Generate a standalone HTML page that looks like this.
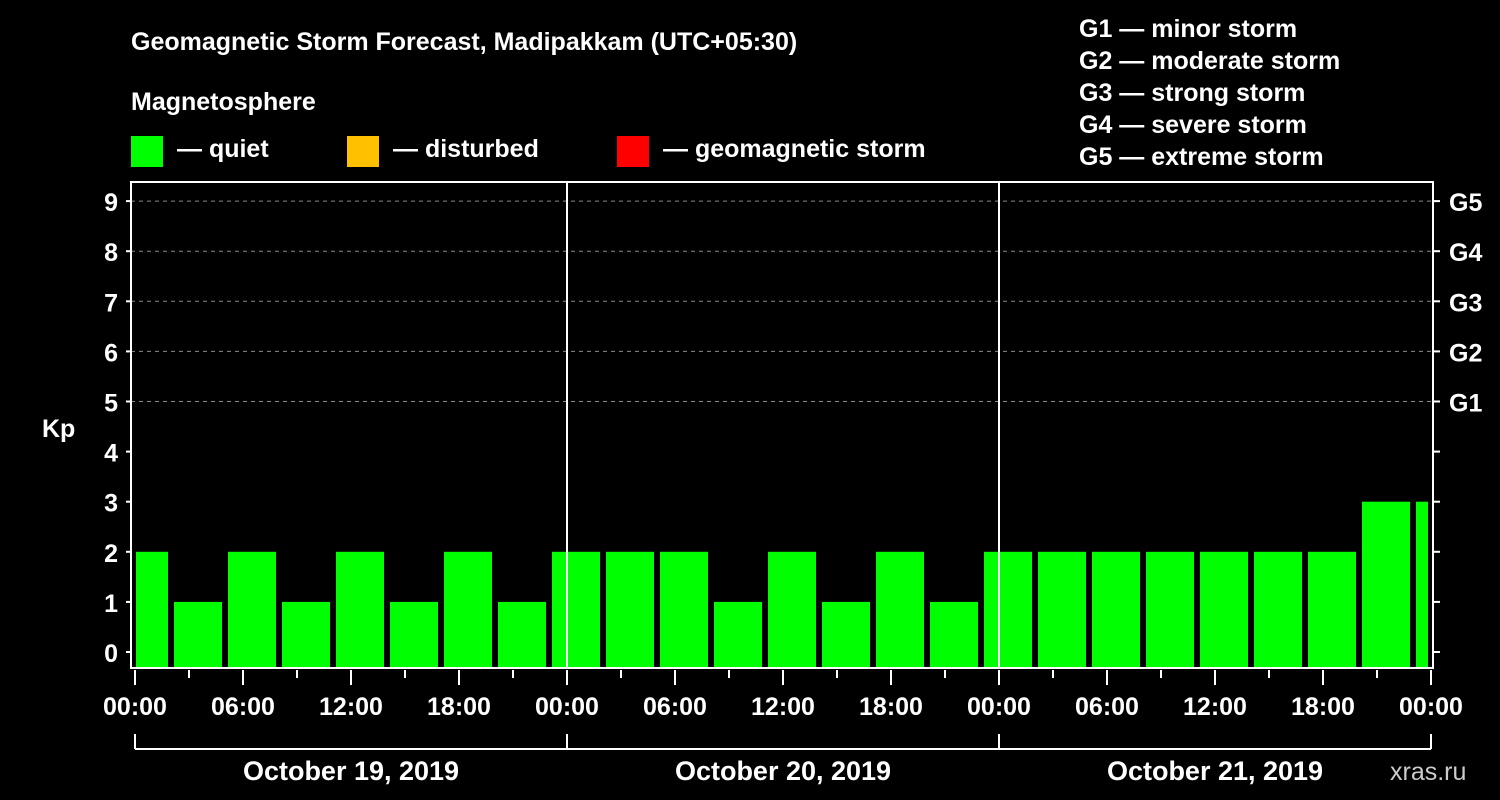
<!DOCTYPE html>
<html><head><meta charset="utf-8"><style>
html,body{margin:0;padding:0;background:#000;}
svg{display:block;font-family:"Liberation Sans",sans-serif;font-weight:bold;}
</style></head><body>
<svg id="chart" width="1500" height="800" viewBox="0 0 1500 800">
<rect width="1500" height="800" fill="#000"/>
<text x="131" y="50" fill="#fff" font-size="25">Geomagnetic Storm Forecast, Madipakkam (UTC+05:30)</text>
<text x="131" y="110" fill="#fff" font-size="25">Magnetosphere</text>
<rect x="131" y="136" width="32" height="31" fill="#00ff00"/>
<text x="177" y="157" fill="#fff" font-size="25">— quiet</text>
<rect x="347" y="136" width="32" height="31" fill="#ffc000"/>
<text x="393" y="157" fill="#fff" font-size="25">— disturbed</text>
<rect x="617" y="136" width="32" height="31" fill="#ff0000"/>
<text x="663" y="157" fill="#fff" font-size="25">— geomagnetic storm</text>
<g fill="#fff" font-size="25">
<text x="1079" y="37">G1 — minor storm</text>
<text x="1079" y="69">G2 — moderate storm</text>
<text x="1079" y="101">G3 — strong storm</text>
<text x="1079" y="133">G4 — severe storm</text>
<text x="1079" y="165">G5 — extreme storm</text>
</g>
<text x="42" y="437" fill="#fff" font-size="25">Kp</text>
<text x="1390" y="780" fill="#ccc" font-size="25" font-weight="normal">xras.ru</text>
<g id="grid"></g><g id="bars"></g><g id="axes"></g>
</svg>
<script>
const kpValues=[2,1,2,1,2,1,2,1,2,2,2,1,2,1,2,1,2,2,2,2,2,2,2,3,3];
const barStartHour=-0.8333;
const yTicks=[0,1,2,3,4,5,6,7,8,9];
const gLabels=["G1","G2","G3","G4","G5"];
const gLevels=[5,6,7,8,9];
const xTickLabels=["00:00","06:00","12:00","18:00","00:00","06:00","12:00","18:00","00:00","06:00","12:00","18:00","00:00"];
const dayLabels=["October 19, 2019","October 20, 2019","October 21, 2019"];
const NS="http://www.w3.org/2000/svg";
const L=131,R=1433,T=182,B=668,X0=135,PXH=18;
const xs=h=>X0+h*PXH;
const ys=v=>652-v*50.1;
function mk(p,tag,a){const e=document.createElementNS(NS,tag);for(const k in a)e.setAttribute(k,a[k]);p.appendChild(e);return e;}
const grid=document.getElementById('grid'),bars=document.getElementById('bars'),axes=document.getElementById('axes');
gLevels.forEach((v,i)=>{
 const g=mk(grid,'line',{x1:L,x2:R,y1:ys(v),y2:ys(v),stroke:'#888','stroke-dasharray':'4,4','stroke-width':1});
 
 
 const t=mk(axes,'text',{x:1449,y:ys(v)+10,fill:'#fff','font-size':25});
 t.textContent=gLabels[i];
 
 
});
kpValues.forEach((v,i)=>{
 let x1=xs(barStartHour+3*i),x2=x1+48;
 x1=Math.max(x1,136);x2=Math.min(x2,1428);
 const r=mk(bars,'rect',{x:x1,y:ys(v),width:x2-x1,height:B-ys(v),fill:v>=5?'#ff0000':(v>=4?'#ffc000':'#00ff00')});
 
 
});
[1,2].forEach(d=>{
 const l=mk(axes,'line',{x1:xs(24*d),x2:xs(24*d),y1:T,y2:B,stroke:'#fff','stroke-width':2});
 
 
});
const frame=mk(axes,'rect',{x:L,y:T,width:R-L,height:B-T,fill:'none',stroke:'#fff','stroke-width':2});


yTicks.forEach(v=>{
 mk(axes,'line',{x1:L-5,x2:L,y1:ys(v),y2:ys(v),stroke:'#fff','stroke-width':2});
 mk(axes,'line',{x1:R,x2:R+7,y1:ys(v),y2:ys(v),stroke:'#fff','stroke-width':2});
 const t=mk(axes,'text',{x:118,y:ys(v)+10,fill:'#fff','font-size':25,'text-anchor':'end'});
 t.textContent=v;
 
 
});
for(let h=0;h<=72;h+=3){
 mk(axes,'line',{x1:xs(h),x2:xs(h),y1:B+2,y2:h%6==0?B+17:B+10,stroke:'#fff','stroke-width':2});
}
xTickLabels.forEach((s,i)=>{
 const t=mk(axes,'text',{x:xs(6*i),y:715,fill:'#fff','font-size':25,'text-anchor':'middle'});
 t.textContent=s;
 
 
});
mk(axes,'line',{x1:xs(0),x2:xs(72),y1:749,y2:749,stroke:'#fff','stroke-width':2});
for(let d=0;d<=3;d++) mk(axes,'line',{x1:xs(24*d),x2:xs(24*d),y1:734,y2:749,stroke:'#fff','stroke-width':2});
dayLabels.forEach((s,i)=>{
 const t=mk(axes,'text',{x:xs(24*i+12),y:780,fill:'#fff','font-size':27,'text-anchor':'middle'});
 t.textContent=s;
 
 
});
</script>
</body></html>
